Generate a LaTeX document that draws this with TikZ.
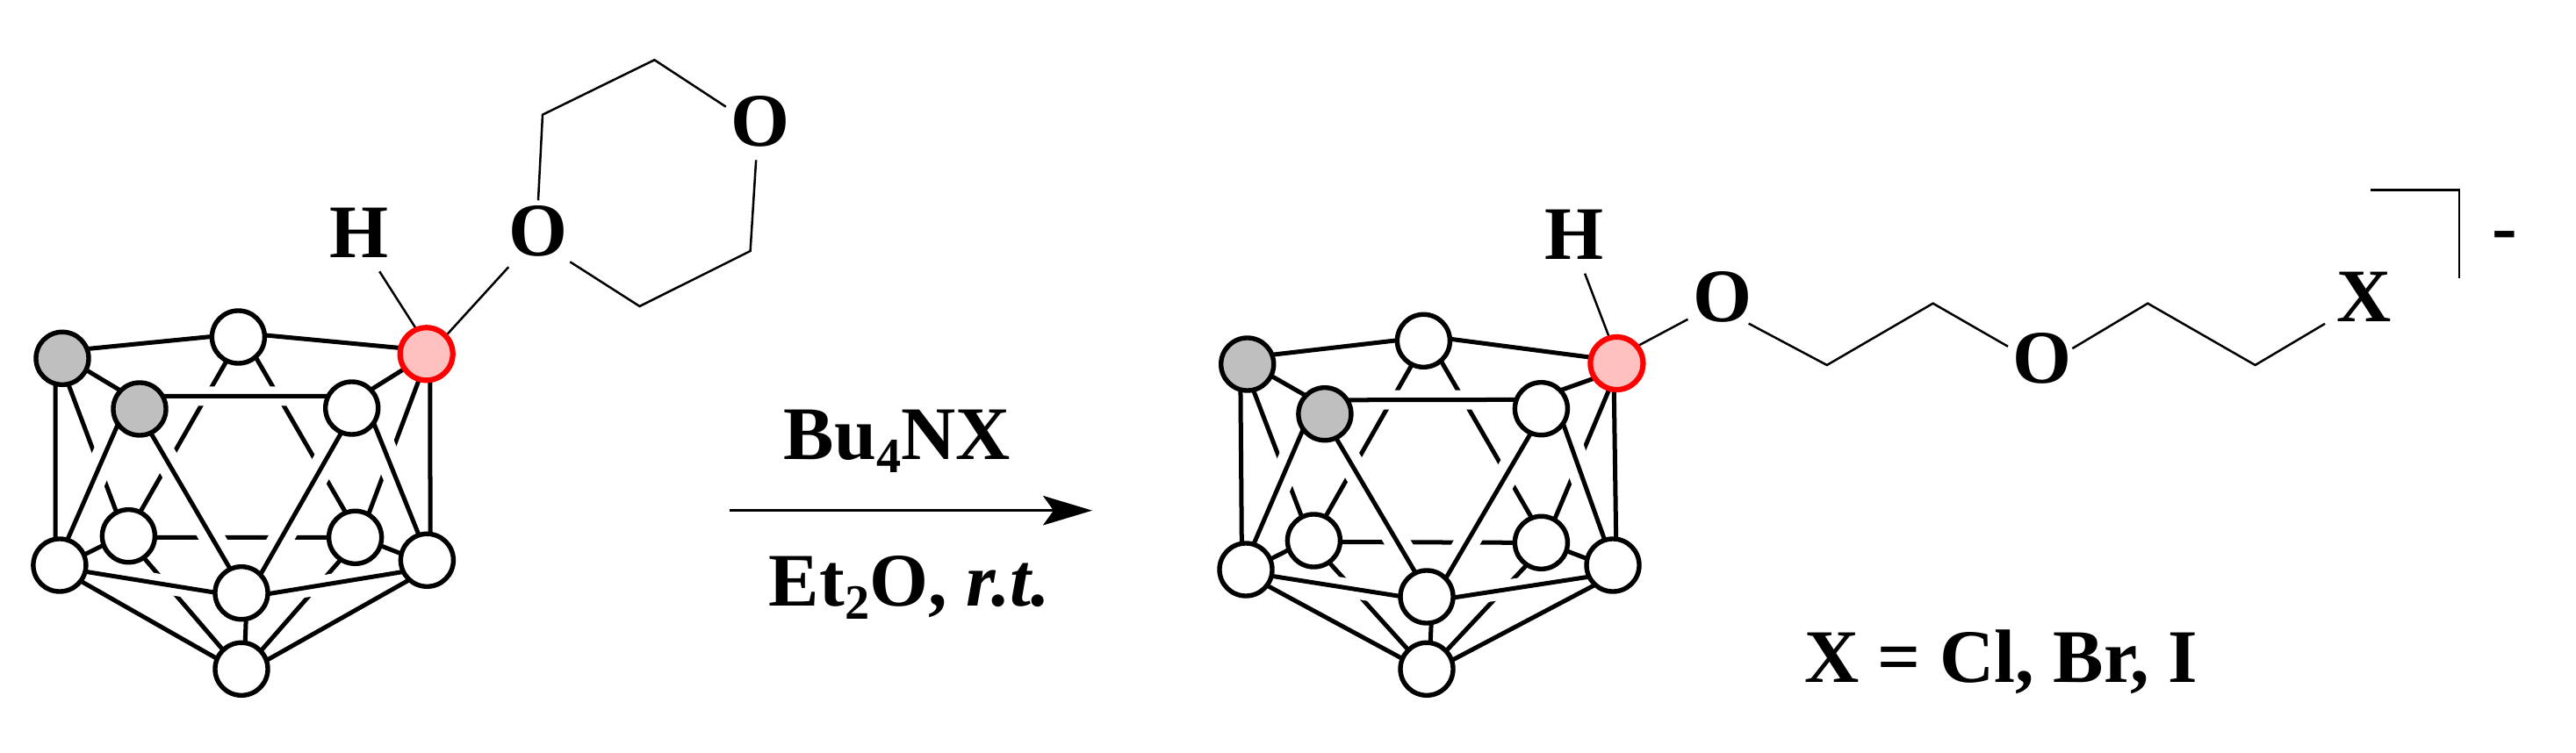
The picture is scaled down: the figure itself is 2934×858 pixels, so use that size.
\documentclass[tikz,border=0pt]{standalone}
\usepackage{fontspec}
\setmainfont{Liberation Serif}
\usetikzlibrary{arrows.meta,backgrounds}
\newcommand{\lowidx}[1]{\raisebox{-4.3pt}{\fontsize{16}{16}\selectfont #1}}
\newcommand{\chemfont}{\fontsize{24.5}{28}\selectfont\bfseries}

\tikzset{
  vertex/.style={circle,draw=black,fill=white,line width=0.054cm,minimum size=0.6cm,inner sep=0pt,outer sep=0pt},
  grayvertex/.style={vertex,fill=black!25},
  redvertex/.style={vertex,draw=red,fill=pinkfill,line width=0.062cm},
  cagebond/.style={line width=0.05cm},
  halonarrow/.style={draw=white,line width=0.22cm},
  halowide/.style={draw=white,line width=0.28cm},
  bond/.style={line width=0.025cm,line join=miter},
  atom/.style={inner sep=0pt,minimum width=0.77cm,minimum height=0.686cm,text height=0.57cm,text depth=0pt,font=\chemfont},
  label/.style={font=\chemfont,inner sep=0pt,anchor=base},
}
\definecolor{pinkfill}{RGB}{255,192,192}

% bonds of one cage, behind its vertices
\newcommand{\cagebonds}[3]{
  \begin{scope}[on background layer]
    % rear bonds
    \draw[cagebond] (top.244) -- (ml.64);
    \draw[cagebond] (top.-49) -- (mr.111);
    \draw[cagebond] (g1.-77) -- (ml.117);
    \draw[cagebond] (rv.254) -- (mr.60);
    \draw[cagebond] (ml.-3) -- (mr.180);
    \draw[cagebond] (ml.-55) -- (bot.134);
    \draw[cagebond] (mr.237) -- (bot.43);
    % gaps where the front bonds pass
    \draw[halonarrow] (g2.#2) -- (r2.#3);
    \draw[halonarrow] (ll.-14) -- (bc.179);
    \draw[halonarrow] (bc.-2) -- (lr.206);
    \draw[halowide] (g2.215) -- (ll.73);
    \draw[halowide] (g2.-65) -- (bc.115);
    \draw[halowide] (r2.247) -- (bc.44);
    \draw[halowide] (r2.-34) -- (lr.108);
    % front bonds
    \draw[cagebond] (g1.21) -- (top.179);
    \draw[cagebond] (top.4) -- (rv.167);
    \draw[cagebond] (g1.-26) -- (g2.136);
    \draw[cagebond] (g2.#2) -- (r2.#3);
    \draw[cagebond] (r2.44) -- (rv.214);
    \draw[cagebond] (g1.255) -- (ll.99);
    \draw[cagebond] (rv.#1) -- (lr.83);
    \draw[cagebond] (g2.215) -- (ll.73);
    \draw[cagebond] (g2.-65) -- (bc.115);
    \draw[cagebond] (r2.247) -- (bc.44);
    \draw[cagebond] (r2.-34) -- (lr.108);
    \draw[cagebond] (ll.23) -- (ml.200);
    \draw[cagebond] (mr.-18) -- (lr.166);
    \draw[cagebond] (ll.-14) -- (bc.179);
    \draw[cagebond] (bc.-2) -- (lr.206);
    \draw[cagebond] (ll.-37) -- (bot.157);
    \draw[cagebond] (lr.228) -- (bot.19);
    \draw[cagebond] (bc.-80) -- (bot.82);
  \end{scope}
}

\begin{document}
\begin{tikzpicture}[x=0.01cm,y=-0.01cm]
 \useasboundingbox (0,0) rectangle (2934,858);

 % left cage
 \begin{scope}[name prefix=a-]
  \node[grayvertex] (g1)  at (71,408.3)    {};
  \node[grayvertex] (g2)  at (159,466)     {};
  \node[vertex]     (top) at (271.4,384)   {};
  \node[redvertex]  (rv)  at (485.7,403.3) {};
  \node[vertex]     (r2)  at (400.7,465)   {};
  \node[vertex]     (ml)  at (146.4,610.7) {};
  \node[vertex]     (mr)  at (404.6,612.3) {};
  \node[vertex]     (ll)  at (67.9,644)    {};
  \node[vertex]     (lr)  at (486.4,638.3) {};
  \node[vertex]     (bc)  at (275,675.7)   {};
  \node[vertex]     (bot) at (275,762.3)   {};
  \cagebonds{-82}{29}{153}
 \end{scope}

 % right cage
 \begin{scope}[name prefix=b-]
  \node[grayvertex] (g1)  at (1420.7,415)   {};
  \node[grayvertex] (g2)  at (1508.9,471.7) {};
  \node[vertex]     (top) at (1621.4,388.3) {};
  \node[redvertex]  (rv)  at (1841.4,414)   {};
  \node[vertex]     (r2)  at (1755.4,465.7) {};
  \node[vertex]     (ml)  at (1496.4,616)   {};
  \node[vertex]     (mr)  at (1755.4,618.3) {};
  \node[vertex]     (ll)  at (1419,649)     {};
  \node[vertex]     (lr)  at (1837,644)     {};
  \node[vertex]     (bc)  at (1625,680)     {};
  \node[vertex]     (bot) at (1625,762.3)   {};
  \cagebonds{-96}{32}{160}
 \end{scope}

 % dioxane on the left cage
 \node[atom] (h1) at (409.2,265)  {H};
 \node[atom] (o1) at (613,263.3)  {O};
 \node[atom] (o2) at (866,138.3)  {O};
 \coordinate (c1) at (618,130.7);
 \coordinate (c2) at (745.4,68.3);
 \coordinate (c3) at (854.6,286);
 \coordinate (c4) at (728.5,349);
 \draw[bond] (o1.90) -- (c1) -- (c2) -- (o2.157);
 \draw[bond,shorten <=0.09cm] (o2.263) -- (c3) -- (c4) -- (o1.-44);
 \begin{scope}[on background layer]
  \draw[bond,shorten <=0.11cm] (h1.-64) -- (a-rv.112);
  \draw[bond,shorten <=0.08cm] (o1.231) -- (a-rv.43);
 \end{scope}

 % open chain on the right cage
 \node[atom] (h2) at (1792.8,267.3) {H};
 \node[atom] (o3) at (1961.6,338.3) {O};
 \node[atom] (o4) at (2326.2,408.3) {O};
 \node[atom] (x1) at (2692.4,338.3) {X};
 \coordinate (d1) at (2080.8,416);
 \coordinate (d2) at (2201.6,345.7);
 \coordinate (d3) at (2446.2,345.7);
 \coordinate (d4) at (2568.6,416);
 \draw[bond,shorten <=-0.1cm] (o3.-42) -- (d1) -- (d2) -- (o4.161);
 \draw[bond,shorten <=-0.06cm,shorten >=0.06cm] (o4.20) -- (d3) -- (d4) -- (x1.215);
 \begin{scope}[on background layer]
  \draw[bond,shorten <=0.1cm] (h2.-76) -- (b-rv.106);
  \draw[bond] (o3.213) -- (b-rv.40);
 \end{scope}

 % charge bracket
 \coordinate (k1) at (2700.2,216.3);
 \coordinate (k2) at (2800.8,216.3);
 \coordinate (k3) at (2800.8,316.7);
 \draw[bond] (k1) -- (k2) -- (k3);
 \node[label] (chg) at (2852.7,288) {-};

 % reaction arrow
 \coordinate (ar1) at (830.7,581.7);
 \coordinate (ar2) at (1244,581.7);
 \draw[line width=0.026cm,-{Stealth[length=0.56cm,width=0.335cm,inset=0.12cm]}] (ar1) -- (ar2);
 \node[label] (reag) at (1021.7,523.3) {Bu\lowidx{4}NX};
 \node[label] (cond) at (1036,690) {Et\lowidx{2}O, \textit{r.t.}};
 \node[label] (xdef) at (2279,777.3) {X = Cl, Br, I};
\end{tikzpicture}
\end{document}
